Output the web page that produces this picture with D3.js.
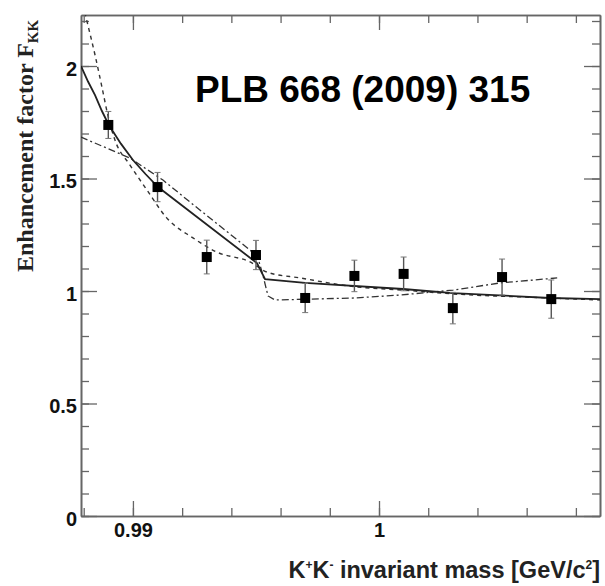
<!DOCTYPE html>
<html>
<head>
<meta charset="utf-8">
<script src="https://cdn.jsdelivr.net/npm/d3@7"></script>
<style>
    body { margin: 0; background: #ffffff; }
    svg { display: block; }
</style>
</head>
<body>
<svg width="605" height="586"></svg>
<script>
// I. Données

// centres des bins en masse K+K- (GeV/c2)
let masses = [0.989, 0.991, 0.993, 0.995, 0.997, 0.999, 1.001, 1.003, 1.005, 1.007];
// facteur d'augmentation F_KK mesuré
let facteurs = [1.738, 1.462, 1.151, 1.160, 0.969, 1.067, 1.076, 0.924, 1.062, 0.964];
// erreurs
let erreurs = [0.06, 0.065, 0.075, 0.065, 0.065, 0.07, 0.075, 0.07, 0.08, 0.085];

// courbe pleine [masse, F]
let courbePleine = [
    [0.98789, 2.0], [0.98818, 1.93], [0.98846, 1.871], [0.98874, 1.80],
    [0.98902, 1.738], [0.98951, 1.655], [0.99, 1.582], [0.99051, 1.52],
    [0.99102, 1.462], [0.99504, 1.124], [0.99537, 1.053], [0.99699, 1.036],
    [1.00098, 1.009], [1.00301, 0.991], [1.00695, 0.969], [1.00898, 0.964]
];

// courbe en tirets
let courbeTirets = [
    [0.98789, 2.307], [0.98817, 2.182], [0.98846, 2.049], [0.98874, 1.907],
    [0.98898, 1.782], [0.98927, 1.671], [0.98988, 1.56], [0.99057, 1.449],
    [0.99138, 1.324], [0.99244, 1.236], [0.99341, 1.173], [0.99476, 1.129],
    [0.99545, 1.084], [0.99679, 1.058], [0.99911, 1.018], [1.00098, 1.004],
    [1.00301, 0.987], [1.00695, 0.969], [1.00898, 0.96]
];

// courbe tirets-points
let courbeTiretsPoints = [
    [0.98789, 1.684], [0.98988, 1.591], [0.99122, 1.493], [0.99272, 1.36],
    [0.99476, 1.182], [0.99508, 1.147], [0.99528, 1.071], [0.99549, 0.978],
    [0.99577, 0.96], [0.99902, 0.969], [1.00085, 0.982], [1.00301, 1.004],
    [1.00492, 1.036], [1.00724, 1.058]
];

// graduations
let ticksY = [0, 0.5, 1, 1.5, 2];
let labelsY = ["0", "0.5", "1", "1.5", "2"];
let ticksX = [0.99, 1];
let labelsX = ["0.99", "1"];

// II. Dessin
let svg = d3.select("svg");

let gauche = 81, droite = 600, haut = 15, bas = 516;

let x = d3.scaleLinear().domain([0.98789, 1.00898]).range([gauche, droite]);
let y = d3.scaleLinear().domain([0, 2.2267]).range([bas, haut]);

let petitsY = d3.range(0, 2.25, 0.1);
let petitsX = d3.range(0.988, 1.009, 0.002);

let police = "'Liberation Sans', Arial, Helvetica, sans-serif";
let couleurAxe = "#666666";

// mise en forme d'un axe
function styleAxe(g) {
    g.select(".domain").attr("stroke", couleurAxe).attr("stroke-width", 1.6);
    g.selectAll(".tick line").attr("stroke", couleurAxe).attr("stroke-width", 1.3);
    g.selectAll("text")
        .attr("fill", "#111")
        .style("font-family", police)
        .style("font-weight", "bold")
        .style("font-size", "20px");
}

// axe gauche : petites graduations puis grandes
svg.append("g")
    .attr("transform", `translate(${gauche},0)`)
    .call(d3.axisLeft(y).tickValues(petitsY).tickSize(-8).tickSizeOuter(0).tickFormat(""))
    .call(styleAxe);

svg.append("g")
    .attr("transform", `translate(${gauche},0)`)
    .call(d3.axisLeft(y).tickValues(ticksY).tickSize(-16).tickSizeOuter(0).tickPadding(4)
        .tickFormat((d, i) => labelsY[i]))
    .call(styleAxe)
    .selectAll("text").attr("dy", "0.45em");

// axe droit
svg.append("g")
    .attr("transform", `translate(${droite},0)`)
    .call(d3.axisRight(y).tickValues(petitsY).tickSize(-8).tickSizeOuter(0).tickFormat(""))
    .call(styleAxe);

svg.append("g")
    .attr("transform", `translate(${droite},0)`)
    .call(d3.axisRight(y).tickValues(ticksY).tickSize(-16).tickSizeOuter(0).tickFormat(""))
    .call(styleAxe);

// axe du bas
svg.append("g")
    .attr("transform", `translate(0,${bas})`)
    .call(d3.axisBottom(x).tickValues(petitsX).tickSize(-8).tickSizeOuter(0).tickFormat(""))
    .call(styleAxe);

svg.append("g")
    .attr("transform", `translate(0,${bas})`)
    .call(d3.axisBottom(x).tickValues(ticksX).tickSize(-15).tickSizeOuter(0).tickPadding(7)
        .tickFormat((d, i) => labelsX[i]))
    .call(styleAxe);

// axe du haut
svg.append("g")
    .attr("transform", `translate(0,${haut})`)
    .call(d3.axisTop(x).tickValues(petitsX).tickSize(-8).tickSizeOuter(0).tickFormat(""))
    .call(styleAxe);

svg.append("g")
    .attr("transform", `translate(0,${haut})`)
    .call(d3.axisTop(x).tickValues(ticksX).tickSize(-15).tickSizeOuter(0).tickFormat(""))
    .call(styleAxe);

// zone de découpe pour les courbes
svg.append("clipPath")
    .attr("id", "cadre")
    .append("rect")
    .attr("x", gauche)
    .attr("y", haut)
    .attr("width", droite - gauche)
    .attr("height", bas - haut);

let ligneLisse = d3.line()
    .x(d => x(d[0]))
    .y(d => y(d[1]))
    .curve(d3.curveMonotoneX);

let ligneDroite = d3.line()
    .x(d => x(d[0]))
    .y(d => y(d[1]));

let courbes = svg.append("g").attr("clip-path", "url(#cadre)");

courbes.append("path")
    .datum(courbeTiretsPoints)
    .attr("d", ligneDroite)
    .attr("fill", "none")
    .attr("stroke", "#333")
    .attr("stroke-width", 1.3)
    .attr("stroke-dasharray", "7,3,2,3");

courbes.append("path")
    .datum(courbeTirets)
    .attr("d", ligneLisse)
    .attr("fill", "none")
    .attr("stroke", "#333")
    .attr("stroke-width", 1.4)
    .attr("stroke-dasharray", "4,4");

courbes.append("path")
    .datum(courbePleine)
    .attr("d", ligneDroite)
    .attr("fill", "none")
    .attr("stroke", "#222")
    .attr("stroke-width", 1.8);

// points de mesure avec barres d'erreur
let points = masses.map((m, i) => ({ m: m, f: facteurs[i], e: erreurs[i] }));

let barres = svg.append("g").selectAll("g")
    .data(points)
    .enter()
    .append("g");

barres.append("line")
    .attr("x1", d => x(d.m))
    .attr("x2", d => x(d.m))
    .attr("y1", d => y(d.f + d.e))
    .attr("y2", d => y(d.f - d.e))
    .attr("stroke", "#555")
    .attr("stroke-width", 1.4);

barres.append("line")
    .attr("x1", d => x(d.m) - 3)
    .attr("x2", d => x(d.m) + 3)
    .attr("y1", d => y(d.f + d.e))
    .attr("y2", d => y(d.f + d.e))
    .attr("stroke", "#777")
    .attr("stroke-width", 1);

barres.append("line")
    .attr("x1", d => x(d.m) - 3)
    .attr("x2", d => x(d.m) + 3)
    .attr("y1", d => y(d.f - d.e))
    .attr("y2", d => y(d.f - d.e))
    .attr("stroke", "#777")
    .attr("stroke-width", 1);

barres.append("rect")
    .attr("x", d => x(d.m) - 5)
    .attr("y", d => y(d.f) - 5)
    .attr("width", 10)
    .attr("height", 10)
    .attr("fill", "#000");

// III. Textes

// titre de l'axe des y
let titreY = svg.append("text")
    .attr("transform", "translate(33,272) rotate(-90)")
    .style("font-family", "'Liberation Serif', 'Times New Roman', serif")
    .style("font-weight", "bold")
    .style("font-size", "24px")
    .attr("fill", "#222");
titreY.append("tspan").text("Enhancement factor F");
titreY.append("tspan").attr("dy", 5).style("font-size", "15px").text("KK");

// titre de l'axe des x
let titreX = svg.append("text")
    .attr("x", droite)
    .attr("y", 578)
    .attr("text-anchor", "end")
    .style("font-family", police)
    .style("font-weight", "bold")
    .style("font-size", "23.5px")
    .attr("fill", "#222");
titreX.append("tspan").text("K");
titreX.append("tspan").attr("dy", -9).style("font-size", "12px").text("+");
titreX.append("tspan").attr("dy", 9).text("K");
titreX.append("tspan").attr("dy", -9).style("font-size", "12px").text("-");
titreX.append("tspan").attr("dy", 9).text(" invariant mass [GeV/c");
titreX.append("tspan").attr("dy", -9).style("font-size", "12px").text("2");
titreX.append("tspan").attr("dy", 9).text("]");

// référence
svg.append("text")
    .attr("x", 195)
    .attr("y", 102)
    .style("font-family", police)
    .style("font-weight", "bold")
    .style("font-size", "37px")
    .attr("fill", "#000")
    .text("PLB 668 (2009) 315");
</script>
</body>
</html>
